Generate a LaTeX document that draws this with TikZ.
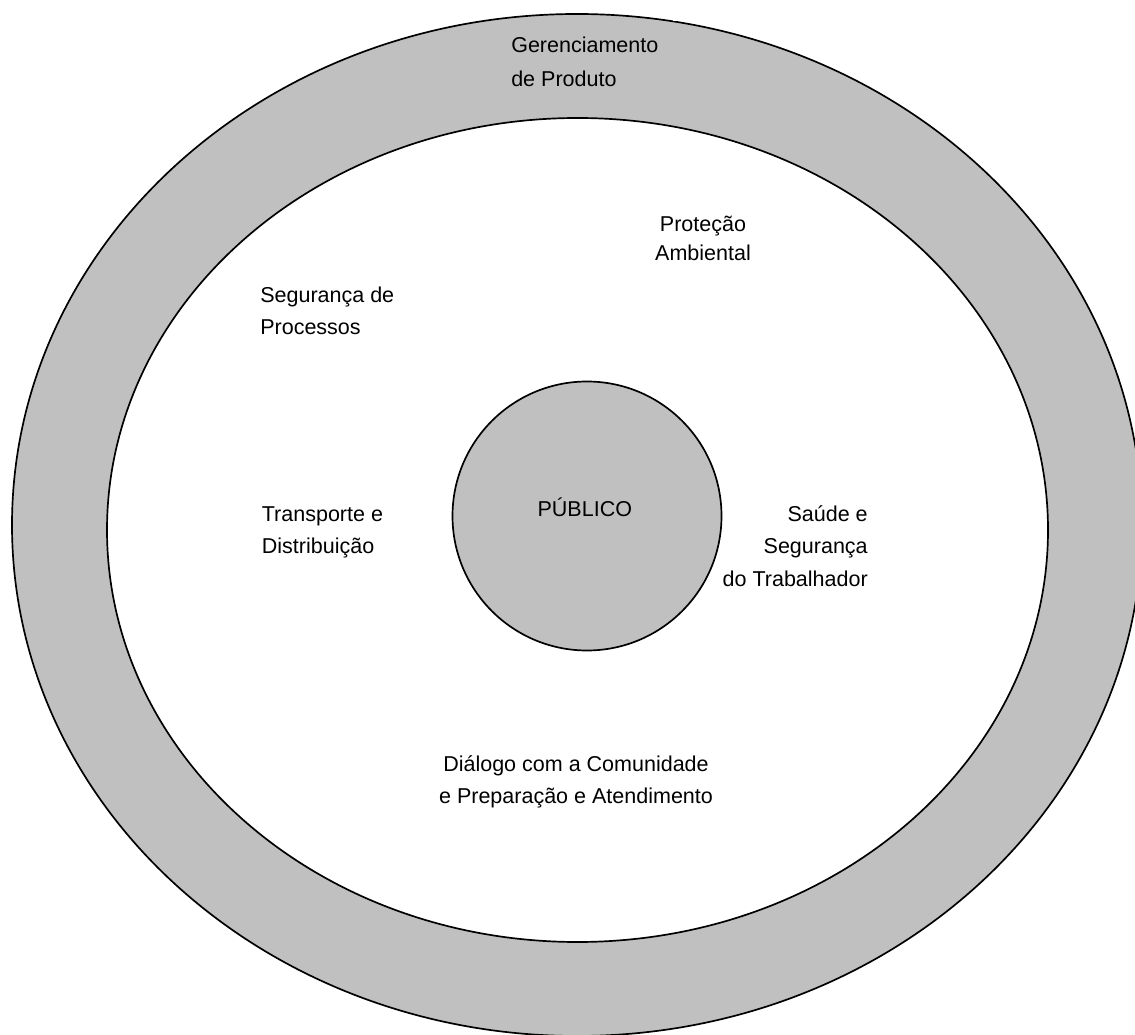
\documentclass[tikz,border=0pt]{standalone}
\usepackage{fontspec}
\setmainfont{Liberation Sans}
\usepackage{xcolor}
\definecolor{ringgray}{HTML}{C0C0C0}
\tikzset{
    ring/.style={draw=black, line width=1.2pt, fill=ringgray},
    hole/.style={draw=black, line width=1.2pt, fill=white},
    theme/.style={inner sep=0pt, font=\fontsize{15.3}{22.8}\selectfont}
}

\begin{document}
\begin{tikzpicture}
                        \useasboundingbox (0, 0) rectangle (28.375, 25.85);
                        \clip (0, 0) rectangle (28.375, 25.85);

                        \draw[ring] (14.425, 12.725) ellipse [x radius=14.125, y radius=12.775];
                        \draw[hole] (14.4375, 12.6) ellipse [x radius=11.7625, y radius=10.3];
                        \fill[white] (16.825, 25.325) rectangle (17.575, 25.85);
                        \node[ring, circle, minimum size=6.725cm] (pub) at (14.675, 12.95) {};

                        \node[theme, anchor=base] (publico) at (14.62, 12.95) {PÚBLICO};
                        \node[theme, anchor=base west, align=left] (produto) at (12.775, 23.675) {Gerenciamento\\[1.4pt]de Produto};
                        \node[theme, anchor=base, align=center] (ambiental) at (17.575, 19.34) {Proteção\\[-2.6pt]Ambiental};
                        \node[theme, anchor=base west, align=left] (processos) at (6.5, 17.475) {Segurança de\\Processos};
                        \node[theme, anchor=base west, align=left] (transporte) at (6.54, 12.02) {Transporte e\\Distribuição};
                        \node[theme, anchor=base east, align=right] (saude) at (21.7, 11.2) {Saúde e\\Segurança\\do Trabalhador};
                        \node[theme, anchor=base, align=center] (dialogo) at (14.4, 5.77) {Diálogo com a Comunidade\\e Preparação e Atendimento};
                    \end{tikzpicture}
\end{document}
